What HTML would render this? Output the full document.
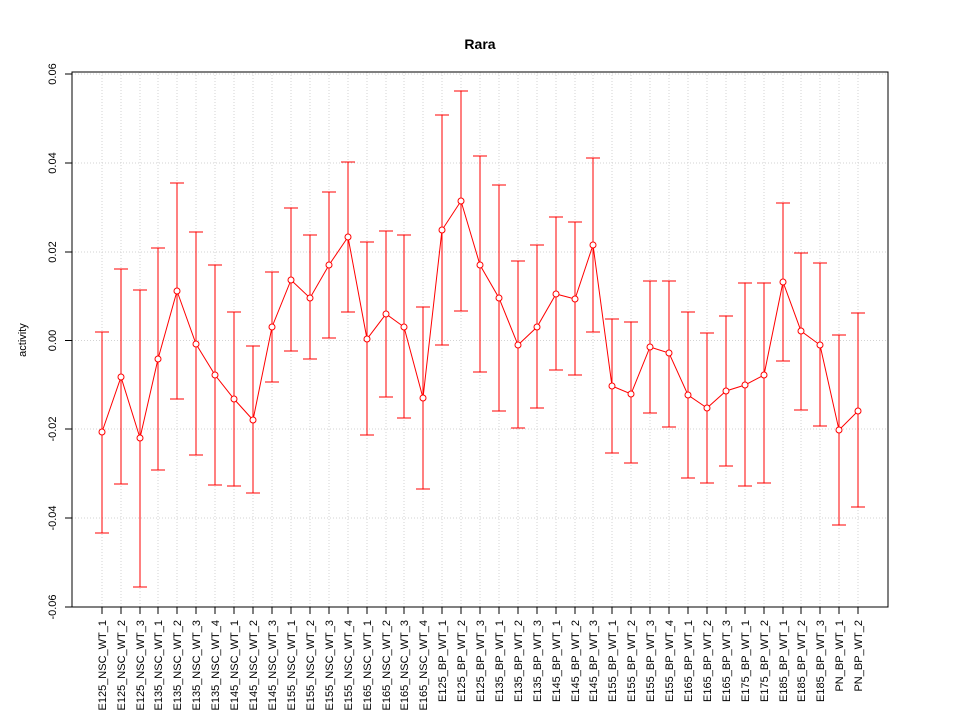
<!DOCTYPE html>
<html><head><meta charset="utf-8"><style>body{margin:0;background:#fff}svg{display:block}text{font-family:"Liberation Sans",sans-serif}</style></head><body>
<svg width="960" height="720" viewBox="0 0 960 720" xmlns="http://www.w3.org/2000/svg">
<rect width="960" height="720" fill="#fff"/>
<g stroke="#d3d3d3" stroke-dasharray="1,2" stroke-width="1">
<line x1="72" x2="888" y1="74" y2="74"/><line x1="72" x2="888" y1="163" y2="163"/><line x1="72" x2="888" y1="252" y2="252"/><line x1="72" x2="888" y1="340.5" y2="340.5"/><line x1="72" x2="888" y1="429" y2="429"/><line x1="72" x2="888" y1="518" y2="518"/>
<path d="M102 72V607M121 72V607M140 72V607M158 72V607M177 72V607M196 72V607M215 72V607M234 72V607M253 72V607M272 72V607M291 72V607M310 72V607M329 72V607M348 72V607M367 72V607M386 72V607M404 72V607M423 72V607M442 72V607M461 72V607M480 72V607M499 72V607M518 72V607M537 72V607M556 72V607M575 72V607M593 72V607M612 72V607M631 72V607M650 72V607M669 72V607M688 72V607M707 72V607M726 72V607M745 72V607M764 72V607M783 72V607M801 72V607M820 72V607M839 72V607M858 72V607"/>
</g>
<rect x="72" y="72" width="816" height="535" fill="none" stroke="#000"/>
<g stroke="#000"><path d="M72 74H65M72 163H65M72 252H65M72 340.5H65M72 429H65M72 518H65M72 607H65"/>
<path d="M102 607V614M121 607V614M140 607V614M158 607V614M177 607V614M196 607V614M215 607V614M234 607V614M253 607V614M272 607V614M291 607V614M310 607V614M329 607V614M348 607V614M367 607V614M386 607V614M404 607V614M423 607V614M442 607V614M461 607V614M480 607V614M499 607V614M518 607V614M537 607V614M556 607V614M575 607V614M593 607V614M612 607V614M631 607V614M650 607V614M669 607V614M688 607V614M707 607V614M726 607V614M745 607V614M764 607V614M783 607V614M801 607V614M820 607V614M839 607V614M858 607V614"/></g>
<g font-size="11" text-anchor="middle">
<text transform="translate(56,74) rotate(-90)">0.06</text><text transform="translate(56,163) rotate(-90)">0.04</text><text transform="translate(56,252) rotate(-90)">0.02</text><text transform="translate(56,340.5) rotate(-90)">0.00</text><text transform="translate(56,429) rotate(-90)">-0.02</text><text transform="translate(56,518) rotate(-90)">-0.04</text><text transform="translate(56,607) rotate(-90)">-0.06</text>
<text transform="translate(26,340) rotate(-90)">activity</text>
</g>
<text x="480" y="49" font-size="14" font-weight="bold" text-anchor="middle">Rara</text>
<g font-size="11" text-anchor="end">
<text transform="translate(106,620) rotate(-90)">E125_NSC_WT_1</text><text transform="translate(125,620) rotate(-90)">E125_NSC_WT_2</text><text transform="translate(144,620) rotate(-90)">E125_NSC_WT_3</text><text transform="translate(162,620) rotate(-90)">E135_NSC_WT_1</text><text transform="translate(181,620) rotate(-90)">E135_NSC_WT_2</text><text transform="translate(200,620) rotate(-90)">E135_NSC_WT_3</text><text transform="translate(219,620) rotate(-90)">E135_NSC_WT_4</text><text transform="translate(238,620) rotate(-90)">E145_NSC_WT_1</text><text transform="translate(257,620) rotate(-90)">E145_NSC_WT_2</text><text transform="translate(276,620) rotate(-90)">E145_NSC_WT_3</text><text transform="translate(295,620) rotate(-90)">E155_NSC_WT_1</text><text transform="translate(314,620) rotate(-90)">E155_NSC_WT_2</text><text transform="translate(333,620) rotate(-90)">E155_NSC_WT_3</text><text transform="translate(352,620) rotate(-90)">E155_NSC_WT_4</text><text transform="translate(371,620) rotate(-90)">E165_NSC_WT_1</text><text transform="translate(390,620) rotate(-90)">E165_NSC_WT_2</text><text transform="translate(408,620) rotate(-90)">E165_NSC_WT_3</text><text transform="translate(427,620) rotate(-90)">E165_NSC_WT_4</text><text transform="translate(446,620) rotate(-90)">E125_BP_WT_1</text><text transform="translate(465,620) rotate(-90)">E125_BP_WT_2</text><text transform="translate(484,620) rotate(-90)">E125_BP_WT_3</text><text transform="translate(503,620) rotate(-90)">E135_BP_WT_1</text><text transform="translate(522,620) rotate(-90)">E135_BP_WT_2</text><text transform="translate(541,620) rotate(-90)">E135_BP_WT_3</text><text transform="translate(560,620) rotate(-90)">E145_BP_WT_1</text><text transform="translate(579,620) rotate(-90)">E145_BP_WT_2</text><text transform="translate(597,620) rotate(-90)">E145_BP_WT_3</text><text transform="translate(616,620) rotate(-90)">E155_BP_WT_1</text><text transform="translate(635,620) rotate(-90)">E155_BP_WT_2</text><text transform="translate(654,620) rotate(-90)">E155_BP_WT_3</text><text transform="translate(673,620) rotate(-90)">E155_BP_WT_4</text><text transform="translate(692,620) rotate(-90)">E165_BP_WT_1</text><text transform="translate(711,620) rotate(-90)">E165_BP_WT_2</text><text transform="translate(730,620) rotate(-90)">E165_BP_WT_3</text><text transform="translate(749,620) rotate(-90)">E175_BP_WT_1</text><text transform="translate(768,620) rotate(-90)">E175_BP_WT_2</text><text transform="translate(787,620) rotate(-90)">E185_BP_WT_1</text><text transform="translate(805,620) rotate(-90)">E185_BP_WT_2</text><text transform="translate(824,620) rotate(-90)">E185_BP_WT_3</text><text transform="translate(843,620) rotate(-90)">PN_BP_WT_1</text><text transform="translate(862,620) rotate(-90)">PN_BP_WT_2</text>
</g>
<g stroke="#ff0000" fill="none" stroke-width="1">
<path d="M102 332V533M95 332H109M95 533H109M121 269V484M114 269H128M114 484H128M140 290V587M133 290H147M133 587H147M158 248V470M151 248H165M151 470H165M177 183V399M170 183H184M170 399H184M196 232V455M189 232H203M189 455H203M215 265V485M208 265H222M208 485H222M234 312V486M227 312H241M227 486H241M253 346V493M246 346H260M246 493H260M272 272V382M265 272H279M265 382H279M291 208V351M284 208H298M284 351H298M310 235V359M303 235H317M303 359H317M329 192V338M322 192H336M322 338H336M348 162V312M341 162H355M341 312H355M367 242V435M360 242H374M360 435H374M386 231V397M379 231H393M379 397H393M404 235V418M397 235H411M397 418H411M423 307V489M416 307H430M416 489H430M442 115V345M435 115H449M435 345H449M461 91V311M454 91H468M454 311H468M480 156V372M473 156H487M473 372H487M499 185V411M492 185H506M492 411H506M518 261V428M511 261H525M511 428H525M537 245V408M530 245H544M530 408H544M556 217V370M549 217H563M549 370H563M575 222V375M568 222H582M568 375H582M593 158V332M586 158H600M586 332H600M612 319V453M605 319H619M605 453H619M631 322V463M624 322H638M624 463H638M650 281V413M643 281H657M643 413H657M669 281V427M662 281H676M662 427H676M688 312V478M681 312H695M681 478H695M707 333V483M700 333H714M700 483H714M726 316V466M719 316H733M719 466H733M745 283V486M738 283H752M738 486H752M764 283V483M757 283H771M757 483H771M783 203V361M776 203H790M776 361H790M801 253V410M794 253H808M794 410H808M820 263V426M813 263H827M813 426H827M839 335V525M832 335H846M832 525H846M858 313V507M851 313H865M851 507H865"/>
<polyline points="102,432 121,377 140,438 158,359 177,291 196,344 215,375 234,399 253,420 272,327 291,280 310,298 329,265 348,237 367,339 386,314 404,327 423,398 442,230 461,201 480,265 499,298 518,345 537,327 556,294 575,299 593,245 612,386 631,394 650,347 669,353 688,395 707,408 726,391 745,385 764,375 783,282 801,331 820,345 839,430 858,411"/>
</g>
<g stroke="#ff0000" fill="#fff">
<circle cx="102" cy="432" r="3"/><circle cx="121" cy="377" r="3"/><circle cx="140" cy="438" r="3"/><circle cx="158" cy="359" r="3"/><circle cx="177" cy="291" r="3"/><circle cx="196" cy="344" r="3"/><circle cx="215" cy="375" r="3"/><circle cx="234" cy="399" r="3"/><circle cx="253" cy="420" r="3"/><circle cx="272" cy="327" r="3"/><circle cx="291" cy="280" r="3"/><circle cx="310" cy="298" r="3"/><circle cx="329" cy="265" r="3"/><circle cx="348" cy="237" r="3"/><circle cx="367" cy="339" r="3"/><circle cx="386" cy="314" r="3"/><circle cx="404" cy="327" r="3"/><circle cx="423" cy="398" r="3"/><circle cx="442" cy="230" r="3"/><circle cx="461" cy="201" r="3"/><circle cx="480" cy="265" r="3"/><circle cx="499" cy="298" r="3"/><circle cx="518" cy="345" r="3"/><circle cx="537" cy="327" r="3"/><circle cx="556" cy="294" r="3"/><circle cx="575" cy="299" r="3"/><circle cx="593" cy="245" r="3"/><circle cx="612" cy="386" r="3"/><circle cx="631" cy="394" r="3"/><circle cx="650" cy="347" r="3"/><circle cx="669" cy="353" r="3"/><circle cx="688" cy="395" r="3"/><circle cx="707" cy="408" r="3"/><circle cx="726" cy="391" r="3"/><circle cx="745" cy="385" r="3"/><circle cx="764" cy="375" r="3"/><circle cx="783" cy="282" r="3"/><circle cx="801" cy="331" r="3"/><circle cx="820" cy="345" r="3"/><circle cx="839" cy="430" r="3"/><circle cx="858" cy="411" r="3"/>
</g>
</svg>
</body></html>
